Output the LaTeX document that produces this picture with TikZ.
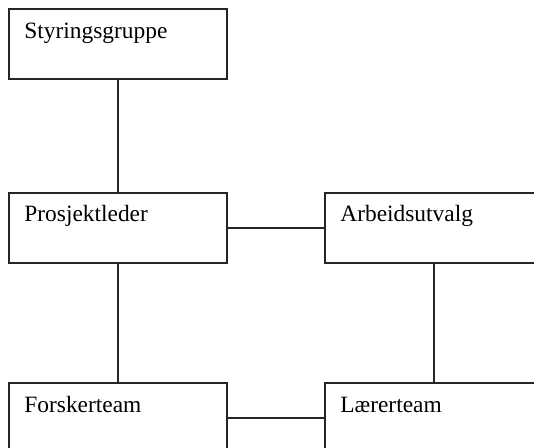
\documentclass[tikz,border=0pt]{standalone}
\usepackage{fontspec}
\setmainfont{Liberation Serif}
\usetikzlibrary{calc}
\begin{document}
\begin{tikzpicture}[x=0.5pt,y=-0.5pt,
  box/.style={draw=black!85,line width=0.9pt,rectangle,minimum width=109pt,minimum height=35pt,inner sep=0pt,anchor=north west},
  lbl/.style={font=\fontsize{11.7pt}{14pt}\selectfont,anchor=base west,inner sep=0pt},
  link/.style={draw=black!85,line width=0.9pt}]
\useasboundingbox (0,0) rectangle (534,448);
\clip (0,0) rectangle (534,448);
\node[box] (s) at (8,8) {};
\node[box] (p) at (8,192) {};
\node[box] (a) at (324,192) {};
\node[box] (f) at (8,382) {};
\node[box] (l) at (324,382) {};
\node[lbl] (ts) at ($(s.north west)+(16,31)$) {Styringsgruppe};
\node[lbl] (tp) at ($(p.north west)+(16,30)$) {Prosjektleder};
\node[lbl] (ta) at ($(a.north west)+(16,30)$) {Arbeidsutvalg};
\node[lbl] (tf) at ($(f.north west)+(16,30)$) {Forskerteam};
\node[lbl] (tl) at ($(l.north west)+(16,30)$) {Lærerteam};
\draw[link] (s.south) -- (p.north);
\draw[link] (p.east) -- (a.west);
\draw[link] (p.south) -- (f.north);
\draw[link] (a.south) -- (l.north);
\draw[link] (f.east) -- (l.west);
\end{tikzpicture}
\end{document}
